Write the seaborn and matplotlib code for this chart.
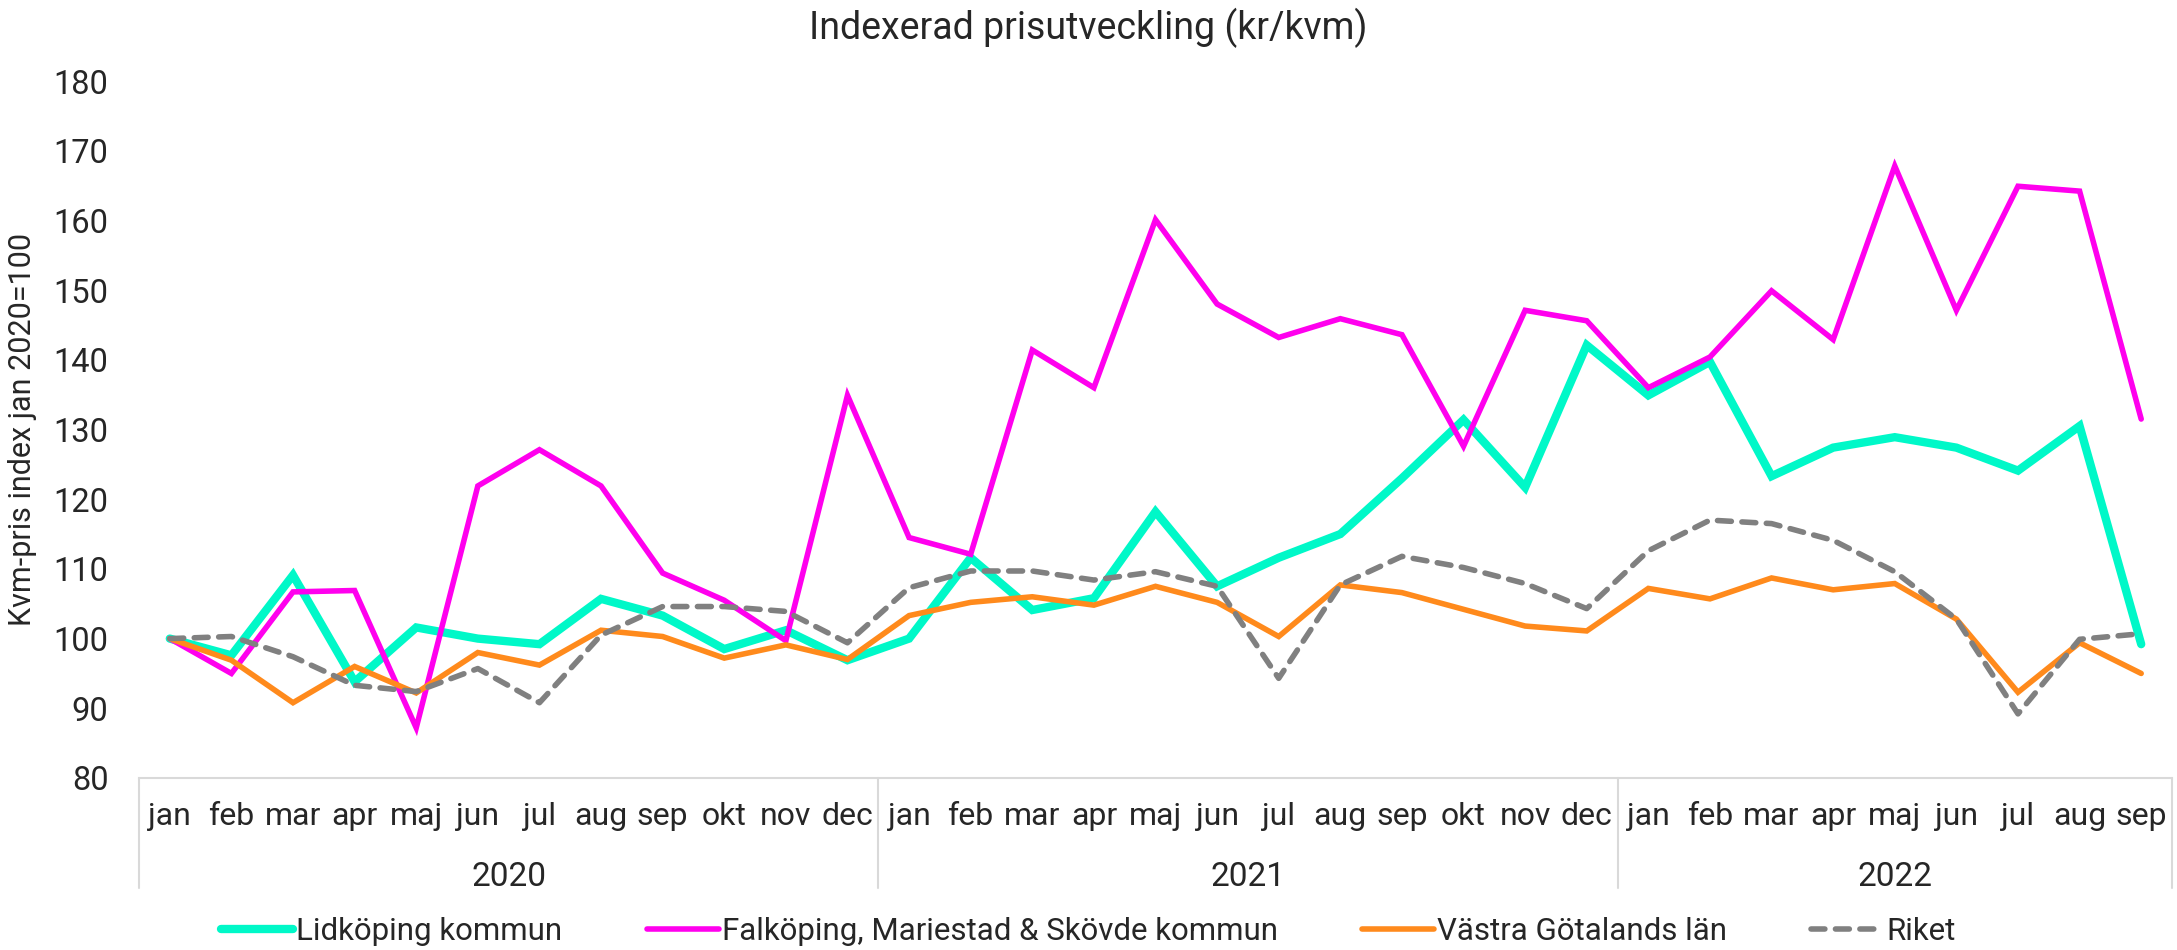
import numpy as np
import pandas as pd
import matplotlib
matplotlib.use("Agg")
import matplotlib.pyplot as plt
import seaborn as sns

# ---- data ----
months = ["jan", "feb", "mar", "apr", "maj", "jun", "jul", "aug", "sep", "okt", "nov", "dec"]
years = ["2020", "2021", "2022"]
month_labels = months + months + months[:9]

lidkoping = [100.0, 97.6, 109.1, 93.8, 101.6, 100.0, 99.2, 105.7, 103.3, 98.5, 101.2, 96.9,
             100.0, 111.6, 104.1, 105.8, 118.2, 107.5, 111.6, 115.0, 123.0, 131.4, 121.7, 142.1,
             134.9, 139.7, 123.3, 127.4, 128.9, 127.4, 124.1, 130.5, 99.2]
falkoping = [100.0, 95.0, 106.7, 106.9, 87.2, 121.9, 127.1, 121.9, 109.4, 105.5, 99.7, 134.9,
             114.5, 112.1, 141.4, 136.0, 160.1, 148.0, 143.2, 145.9, 143.6, 127.6, 147.1, 145.6,
             136.0, 140.4, 149.9, 142.9, 167.8, 147.1, 164.9, 164.2, 131.5]
vastra = [100.0, 96.9, 90.8, 96.0, 92.2, 98.0, 96.2, 101.2, 100.3, 97.2, 99.1, 97.0,
          103.3, 105.2, 106.0, 104.8, 107.5, 105.2, 100.3, 107.7, 106.6, 104.2, 101.8, 101.1,
          107.2, 105.7, 108.7, 107.0, 107.9, 102.8, 92.3, 99.4, 95.0]
riket = [100.0, 100.3, 97.4, 93.3, 92.4, 95.7, 90.8, 100.5, 104.6, 104.6, 103.9, 99.4,
         107.3, 109.7, 109.7, 108.4, 109.6, 107.5, 94.3, 107.7, 111.8, 110.2, 107.9, 104.3,
         112.6, 117.0, 116.5, 114.1, 109.6, 102.8, 89.2, 99.9, 100.7]

series_names = ["Lidköping kommun", "Falköping, Mariestad & Skövde kommun",
                "Västra Götalands län", "Riket"]
series_values = [lidkoping, falkoping, vastra, riket]
colors = ["#00F8C8", "#FF00EE", "#FF8A1C", "#808080"]
widths = [6.0, 4.0, 4.0, 4.0]
yticks = [80, 90, 100, 110, 120, 130, 140, 150, 160, 170, 180]

title = "Indexerad prisutveckling (kr/kvm)"
ylabel = "Kvm-pris index jan 2020=100"

# ---- plot ----
sns.set_theme(style="white")
plt.rcParams["font.family"] = ["Roboto", "DejaVu Sans"]

fig = plt.figure(figsize=(21.77, 9.5), dpi=100)
ax = fig.add_axes([139 / 2177, 1 - 778 / 950, (2172 - 139) / 2177, (778 - 81) / 950])

pos = np.arange(len(month_labels))
handles = []
for name, vals, col, lw in zip(series_names, series_values, colors, widths):
    df = pd.DataFrame({"pos": pos, "value": vals})
    sns.lineplot(data=df, x="pos", y="value", ax=ax, color=col, linewidth=lw,
                 label=name, legend=False)
    line = ax.lines[-1]
    line.set_solid_joinstyle("miter")
    if name == "Riket":
        line.set_linestyle((0, (2.5, 1.9)))
        line.set_dash_capstyle("round")
    handles.append(line)

ax.set_xlim(-0.5, len(month_labels) - 0.5)
ax.set_ylim(80, 180)
ax.set_yticks(yticks)
ax.set_yticklabels([str(t) for t in yticks], fontsize=23.5)
ax.set_xticks(pos)
ax.set_xticklabels(month_labels, fontsize=23)
ax.tick_params(axis="x", length=0, pad=17)
ax.tick_params(axis="y", length=0, pad=22)
ax.set_xlabel("")
ax.set_ylabel(ylabel, fontsize=22, labelpad=12)

for s in ["top", "right", "left"]:
    ax.spines[s].set_visible(False)
ax.spines["bottom"].set_color("#D9D9D9")
ax.spines["bottom"].set_linewidth(1.5)

# multi-level category axis: year separators and labels
trans = ax.get_xaxis_transform()
n = len(month_labels)
bounds = [-0.5, 11.5, 23.5, n - 0.5]
for b in bounds:
    ax.plot([b, b], [0, -0.158], transform=trans, color="#D9D9D9", lw=1.5, clip_on=False)
for i, yr in enumerate(years):
    c = (bounds[i] + bounds[i + 1]) / 2
    ax.text(c, -0.142, yr, transform=trans, ha="center", va="center", fontsize=24)

fig.suptitle(title, fontsize=27, y=1 - 28 / 950, va="center")

leg = fig.legend(handles=handles, labels=series_names, loc="center",
                 bbox_to_anchor=(0.5, 1 - 931 / 950), ncol=4, frameon=False,
                 fontsize=22.5, handlelength=2.3, handletextpad=0.1, columnspacing=2.7)
for h in leg.legend_handles:
    h.set_solid_capstyle("round")

fig.savefig("out.png", dpi=100)
